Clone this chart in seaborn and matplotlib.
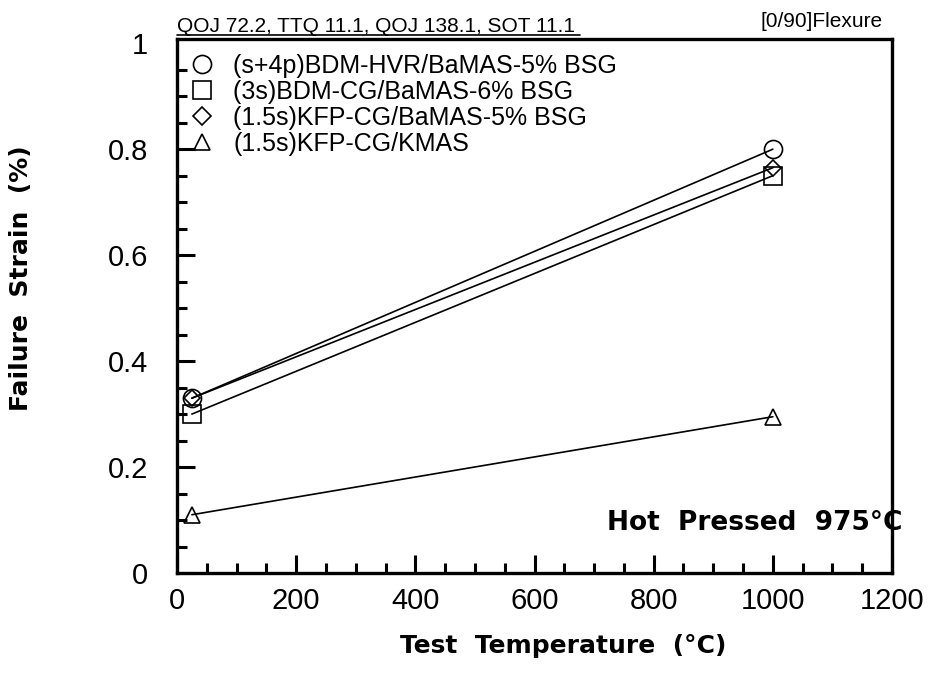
import matplotlib
matplotlib.use("Agg")
import matplotlib.pyplot as plt
import matplotlib.ticker as mticker
from matplotlib.lines import Line2D
import seaborn as sns
import pandas as pd

# ---- data ----
temps = [25, 1000]
series_names = [
    "(s+4p)BDM-HVR/BaMAS-5% BSG",
    "(3s)BDM-CG/BaMAS-6% BSG",
    "(1.5s)KFP-CG/BaMAS-5% BSG",
    "(1.5s)KFP-CG/KMAS",
]
strain_circle = [0.33, 0.80]
strain_square = [0.30, 0.75]
strain_diamond = [0.33, 0.765]
strain_triangle = [0.11, 0.295]
x_ticks = [0, 200, 400, 600, 800, 1000, 1200]
y_ticks = [0, 0.2, 0.4, 0.6, 0.8, 1.0]

all_vals = [strain_circle, strain_square, strain_diamond, strain_triangle]
df = pd.DataFrame({
    "temp": temps * 4,
    "strain": [v for vals in all_vals for v in vals],
    "series": [n for n in series_names for _ in temps],
})

sns.set_theme(style="white")
plt.rcParams["font.family"] = ["Liberation Sans", "DejaVu Sans"]
plt.rcParams["text.color"] = "black"
plt.rcParams["axes.labelcolor"] = "black"
plt.rcParams["xtick.color"] = "black"
plt.rcParams["ytick.color"] = "black"
BOLD = ["DejaVu Sans"]

fig = plt.figure(figsize=(9.32, 6.75), dpi=100)
ax = fig.add_axes([177 / 932, 1 - 573 / 675, (892 - 177) / 932, (573 - 39) / 675])

markers = {series_names[0]: "o", series_names[1]: "s",
           series_names[2]: "D", series_names[3]: "^"}
sizes = {series_names[0]: 13, series_names[1]: 13,
         series_names[2]: 8, series_names[3]: 12}

for name in series_names:
    sub = df[df["series"] == name]
    sns.lineplot(data=sub, x="temp", y="strain", ax=ax, color="black",
                 linewidth=1.2, marker=markers[name], markersize=sizes[name],
                 markerfacecolor="none", markeredgecolor="black",
                 markeredgewidth=1.2, legend=False)

ax.set_xlim(0, 1200)
ax.set_ylim(0, 1.008)
ax.set_xticks(x_ticks)
ax.set_yticks(y_ticks)
ax.xaxis.set_minor_locator(mticker.MultipleLocator(50))
ax.yaxis.set_minor_locator(mticker.MultipleLocator(0.05))
ax.yaxis.set_major_formatter(mticker.FuncFormatter(lambda v, p: "%g" % v))
ax.tick_params(axis="both", which="major", direction="in", length=13, width=2.2,
               labelsize=21, colors="black", bottom=True, left=True)
ax.tick_params(axis="both", which="minor", direction="in", length=7, width=2.2,
               colors="black", bottom=True, left=True)
ax.tick_params(axis="x", which="major", pad=10)
ax.tick_params(axis="y", which="major", pad=21)
ax.yaxis.get_major_ticks()[-1].tick1line.set_visible(False)
for s in ax.spines.values():
    s.set_linewidth(2.4)
    s.set_color("black")

ax.set_xlabel("Test  Temperature  (°C)", fontsize=18, fontweight="bold", family=BOLD,
              color="black")
ax.set_ylabel("Failure  Strain  (%)", fontsize=18, fontweight="bold", family=BOLD,
              color="black")
ax.xaxis.set_label_coords((563 - 177) / 715, -0.114)
ax.yaxis.set_label_coords((33 - 177) / 715, 0.552)

handles = [Line2D([], [], linestyle="none", marker=markers[n],
                  markersize=sizes[n] if n != series_names[2] else 9,
                  markerfacecolor="none", markeredgecolor="black", markeredgewidth=1.2)
           for n in series_names]
leg = ax.legend(handles, series_names, loc="upper left", frameon=False, fontsize=18,
                handlelength=0.8, handletextpad=0.85, labelspacing=0.08,
                borderaxespad=0.2, bbox_to_anchor=(0.0, 1.0))
for t in leg.get_texts():
    t.set_color("black")

ax.text((902 - 177) / 715, (573 - 523) / 534, "Hot  Pressed  975°C", transform=ax.transAxes,
        ha="right", va="center", fontsize=19, fontweight="bold", family=BOLD,
        color="black", clip_on=False)

fig.text(177 / 932, 1 - 32 / 675, "QOJ 72.2, TTQ 11.1, QOJ 138.1, SOT 11.1",
         ha="left", va="baseline", fontsize=15, color="black")
fig.add_artist(Line2D([177 / 932, 580 / 932], [1 - 34.5 / 675, 1 - 34.5 / 675],
                      color="black", linewidth=1.2))
fig.text(883 / 932, 1 - 27 / 675, "[0/90]Flexure", ha="right", va="baseline", fontsize=15,
         color="black")

fig.savefig("out.png", dpi=100, facecolor="white")
